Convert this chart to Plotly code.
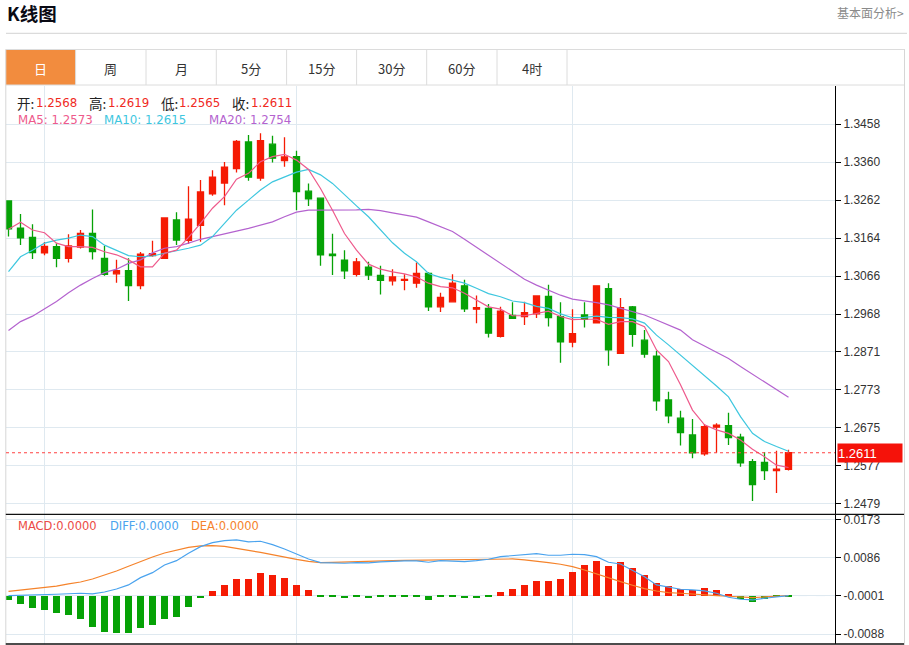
import plotly.graph_objects as go

W, H = 909, 645

# ---------------- data ----------------
opens = [1.3260, 1.3190, 1.3166, 1.3126, 1.3142, 1.3112, 1.3141, 1.3176, 1.3112, 1.3072,
         1.3080, 1.3042, 1.3119, 1.3112, 1.3211, 1.3158, 1.3197, 1.3278, 1.3306, 1.3343,
         1.3412, 1.3319, 1.3406, 1.3364, 1.3374, 1.3285, 1.3267, 1.3123, 1.3107, 1.3071,
         1.3089, 1.3068, 1.3054, 1.3055, 1.3048, 1.3073, 1.2987, 1.3000, 1.3041, 1.2981,
         1.2983, 1.2911, 1.2965, 1.2962, 1.2969, 1.3014, 1.2962, 1.2896, 1.2966, 1.2946,
         1.3034, 1.2867, 1.2987, 1.2901, 1.2860, 1.2747, 1.2700, 1.2657, 1.2608, 1.2677,
         1.2681, 1.2651, 1.2588, 1.2586, 1.2565, 1.2568]
highs = [1.3260, 1.3226, 1.3200, 1.3154, 1.3151, 1.3174, 1.3185, 1.3238, 1.3144, 1.3108,
         1.3112, 1.3128, 1.3157, 1.3216, 1.3231, 1.3298, 1.3314, 1.3339, 1.3360, 1.3417,
         1.3430, 1.3434, 1.3428, 1.3424, 1.3389, 1.3305, 1.3269, 1.3175, 1.3133, 1.3113,
         1.3103, 1.3093, 1.3084, 1.3071, 1.3101, 1.3076, 1.3023, 1.3071, 1.3057, 1.3016,
         1.2994, 1.2987, 1.2999, 1.3000, 1.3017, 1.3044, 1.2999, 1.2981, 1.2999, 1.3041,
         1.3048, 1.3010, 1.2989, 1.2927, 1.2874, 1.2768, 1.2719, 1.2698, 1.2685, 1.2687,
         1.2714, 1.2660, 1.2595, 1.2613, 1.2616, 1.2619]
lows = [1.3168, 1.3146, 1.3110, 1.3120, 1.3089, 1.3101, 1.3137, 1.3109, 1.3067, 1.3049,
        1.3002, 1.3032, 1.3116, 1.3112, 1.3146, 1.3149, 1.3155, 1.3273, 1.3249, 1.3333,
        1.3312, 1.3312, 1.3359, 1.3348, 1.3236, 1.3247, 1.3093, 1.3069, 1.3059, 1.3065,
        1.3056, 1.3019, 1.3042, 1.3030, 1.3036, 1.2976, 1.2974, 1.3000, 1.2974, 1.2945,
        1.2908, 1.2908, 1.2957, 1.2940, 1.2958, 1.2936, 1.2843, 1.2883, 1.2934, 1.2946,
        1.2835, 1.2867, 1.2884, 1.2856, 1.2719, 1.2687, 1.2630, 1.2597, 1.2603, 1.2611,
        1.2631, 1.2575, 1.2487, 1.2541, 1.2507, 1.2565]
closes = [1.3188, 1.3165, 1.3127, 1.3143, 1.3112, 1.3144, 1.3176, 1.3129, 1.3071, 1.3080,
          1.3042, 1.3123, 1.3124, 1.3216, 1.3159, 1.3213, 1.3283, 1.3321, 1.3347, 1.3413,
          1.3321, 1.3415, 1.3370, 1.3373, 1.3284, 1.3265, 1.3121, 1.3119, 1.3080, 1.3103,
          1.3069, 1.3055, 1.3064, 1.3058, 1.3073, 1.2987, 1.3011, 1.3048, 1.2982, 1.2985,
          1.2919, 1.2976, 1.2957, 1.2972, 1.3015, 1.2959, 1.2897, 1.2918, 1.2955, 1.3041,
          1.2876, 1.2985, 1.2916, 1.2865, 1.2745, 1.2706, 1.2663, 1.2611, 1.2678, 1.2682,
          1.2650, 1.2585, 1.2529, 1.2565, 1.2569, 1.2611]

ma5 = [1.3187, 1.3205, 1.3185, 1.3178, 1.3151, 1.3142, 1.3142, 1.3140, 1.3129, 1.3121,
       1.3108, 1.3090, 1.3090, 1.3125, 1.3133, 1.3166, 1.3202, 1.3241, 1.3271, 1.3316,
       1.3331, 1.3361, 1.3374, 1.3380, 1.3365, 1.3341, 1.3292, 1.3236, 1.3176, 1.3133,
       1.3097, 1.3084, 1.3077, 1.3072, 1.3064, 1.3048, 1.3039, 1.3036, 1.3022, 1.3005,
       1.2987, 1.2981, 1.2964, 1.2964, 1.2970, 1.2976, 1.2962, 1.2954, 1.2955, 1.2955,
       1.2942, 1.2949, 1.2949, 1.2936, 1.2876, 1.2846, 1.2786, 1.2721, 1.2683, 1.2670,
       1.2661, 1.2644, 1.2620, 1.2601, 1.2579, 1.2573]
ma10 = [1.3078, 1.3116, 1.3133, 1.3151, 1.3159, 1.3164, 1.3172, 1.3168, 1.3146, 1.3133,
        1.3119, 1.3116, 1.3118, 1.3125, 1.3131, 1.3138, 1.3146, 1.3168, 1.3202, 1.3236,
        1.3262, 1.3288, 1.3309, 1.3322, 1.3334, 1.3341, 1.3327, 1.3305, 1.3275, 1.3247,
        1.3219, 1.3185, 1.3152, 1.3125, 1.3103, 1.3073, 1.3063, 1.3056, 1.3048, 1.3035,
        1.3021, 1.3013, 1.3002, 1.2998, 1.2988, 1.2983, 1.2969, 1.2959, 1.2960, 1.2963,
        1.2960, 1.2959, 1.2956, 1.2945, 1.2914, 1.2889, 1.2863, 1.2837, 1.2811, 1.2783,
        1.2755, 1.2704, 1.2661, 1.2640, 1.2627, 1.2615]
ma20 = [1.2926, 1.2949, 1.2963, 1.2981, 1.3001, 1.3023, 1.3043, 1.3060, 1.3075, 1.3084,
        1.3099, 1.3108, 1.3126, 1.3138, 1.3142, 1.3151, 1.3161, 1.3168, 1.3176, 1.3182,
        1.3189, 1.3198, 1.3206, 1.3219, 1.3231, 1.3236, 1.3236, 1.3236, 1.3236, 1.3237,
        1.3238, 1.3235, 1.3229, 1.3224, 1.3218, 1.3206, 1.3193, 1.3181, 1.3161, 1.3140,
        1.3121, 1.3099, 1.3078, 1.3058, 1.3043, 1.3029, 1.3017, 1.3007, 1.3003, 1.2998,
        1.2992, 1.2983, 1.2974, 1.2966, 1.2953, 1.2940, 1.2927, 1.2902, 1.2886, 1.2871,
        1.2854, 1.2833, 1.2813, 1.2794, 1.2773, 1.2754]

macd_hist = [-0.00101, -0.00199, -0.00291, -0.00330, -0.00405, -0.00444, -0.00529, -0.00712, -0.00827, -0.00849,
             -0.00863, -0.00735, -0.00673, -0.00529, -0.00483, -0.00268, -0.00062, 0.00105, 0.00243, 0.00380,
             0.00380, 0.00517, 0.00465, 0.00410, 0.00250, 0.00135, -0.00032, -0.00032, -0.00055, -0.00025,
             -0.00055, -0.00039, -0.00032, -0.00032, -0.00032, -0.00094, -0.00039, -0.00043, -0.00062, -0.00048,
             -0.00039, 0.00089, 0.00151, 0.00243, 0.00334, 0.00334, 0.00380, 0.00540, 0.00701, 0.00792,
             0.00678, 0.00769, 0.00632, 0.00472, 0.00288, 0.00213, 0.00144, 0.00121, 0.00174, 0.00121,
             0.00014, -0.00085, -0.00147, -0.00085, -0.00039, -0.00021]
diff = [-0.00002, 0.00002, 0.00007, 0.00018, 0.00030, 0.00041, 0.00053, 0.00037, 0.00082, 0.00151,
        0.00243, 0.00410, 0.00524, 0.00701, 0.00799, 0.00968, 0.01120, 0.01211, 0.01257, 0.01273,
        0.01227, 0.01243, 0.01165, 0.01067, 0.00946, 0.00838, 0.00753, 0.00740, 0.00740, 0.00753,
        0.00746, 0.00769, 0.00785, 0.00792, 0.00792, 0.00762, 0.00799, 0.00792, 0.00776, 0.00799,
        0.00831, 0.00891, 0.00914, 0.00946, 0.00959, 0.00923, 0.00923, 0.00946, 0.00936, 0.00891,
        0.00762, 0.00723, 0.00586, 0.00433, 0.00243, 0.00190, 0.00144, 0.00128, 0.00105, 0.00053,
        -0.00039, -0.00085, -0.00101, -0.00062, -0.00032, -0.00002]
dea = [0.00094, 0.00121, 0.00151, 0.00181, 0.00215, 0.00266, 0.00311, 0.00380, 0.00465, 0.00563,
       0.00671, 0.00781, 0.00884, 0.00975, 0.01044, 0.01101, 0.01136, 0.01142, 0.01124, 0.01085,
       0.01033, 0.00987, 0.00930, 0.00872, 0.00827, 0.00781, 0.00753, 0.00758, 0.00769, 0.00776,
       0.00785, 0.00792, 0.00799, 0.00804, 0.00808, 0.00810, 0.00815, 0.00822, 0.00831, 0.00838,
       0.00840, 0.00845, 0.00838, 0.00815, 0.00776, 0.00753, 0.00717, 0.00662, 0.00586, 0.00495,
       0.00396, 0.00318, 0.00236, 0.00158, 0.00105, 0.00066, 0.00053, 0.00030, 0.00014, -0.00002,
       -0.00016, -0.00039, -0.00048, -0.00032, -0.00016, -0.00002]

price_ticks = [1.3458, 1.3360, 1.3262, 1.3164, 1.3066, 1.2968, 1.2871, 1.2773, 1.2675, 1.2577, 1.2479]
price_tick_text = ["1.3458", "1.3360", "1.3262", "1.3164", "1.3066", "1.2968",
                   "1.2871", "1.2773", "1.2675", "1.2577", "1.2479"]
macd_ticks = [0.0173, 0.0086, -0.0001, -0.0088]
macd_tick_text = ["0.0173", "0.0086", "-0.0001", "-0.0088"]
grid_x = [3, 24, 47]   # period boundaries (vertical grid lines)
tabs = ["日", "周", "月", "5分", "15分", "30分", "60分", "4时"]
ohlc_labels = ["开:", "高:", "低:", "收:"]
ohlc_values = ["1.2568", "1.2619", "1.2565", "1.2611"]
ma_labels = ["MA5: 1.2573", "MA10: 1.2615", "MA20: 1.2754"]
macd_labels = ["MACD:0.0000", "DIFF:0.0000", "DEA:0.0000"]
last_price = 1.2611

# ---------------- styles ----------------
RED = "#f51b04"
GREEN = "#06a206"
C_MA5 = "#ee5a8c"
C_MA10 = "#3ec7df"
C_MA20 = "#b463cf"
C_DIFF = "#4aa3ee"
C_DEA = "#f5832b"
GRID = "#dfe9f0"
CJK = "Noto Sans CJK SC"
NUM = "DejaVu Sans"

def px(x):
    return x / W

def py(y):
    return 1 - y / H

x = list(range(len(closes)))
X0, X1 = 6, 835
xr = [-(8.5 - X0) / 12.0, -(8.5 - X0) / 12.0 + (X1 - X0) / 12.0]

fig = go.Figure()

fig.add_trace(go.Candlestick(
    x=x, open=opens, high=highs, low=lows, close=closes,
    increasing=dict(line=dict(color=RED, width=1.3), fillcolor=RED),
    decreasing=dict(line=dict(color=GREEN, width=1.3), fillcolor=GREEN),
    whiskerwidth=0, xaxis="x", yaxis="y", hoverinfo="skip", showlegend=False))

for vals, col in [(ma20, C_MA20), (ma10, C_MA10), (ma5, C_MA5)]:
    fig.add_trace(go.Scatter(x=x, y=vals, mode="lines", line=dict(color=col, width=1.2),
                             xaxis="x", yaxis="y", hoverinfo="skip", showlegend=False))

bar_colors = [RED if v >= 0 else GREEN for v in macd_hist]
fig.add_trace(go.Bar(x=x, y=macd_hist, marker=dict(color=bar_colors, line=dict(width=0)),
                     width=0.66, xaxis="x2", yaxis="y2", hoverinfo="skip", showlegend=False))
fig.add_trace(go.Scatter(x=x, y=dea, mode="lines", line=dict(color=C_DEA, width=1.2),
                         xaxis="x2", yaxis="y2", hoverinfo="skip", showlegend=False))
fig.add_trace(go.Scatter(x=x, y=diff, mode="lines", line=dict(color=C_DIFF, width=1.2),
                         xaxis="x2", yaxis="y2", hoverinfo="skip", showlegend=False))

dom_main = [py(514), py(86)]
dom_macd = [py(644), py(514)]

axis_common_x = dict(domain=[px(X0), px(X1)], range=xr, tickvals=grid_x, showticklabels=False,
                     ticks="", showgrid=True, gridcolor=GRID, gridwidth=1, zeroline=False,
                     showline=False, fixedrange=True)

shapes = []
annotations = []

# top title line
shapes.append(dict(type="line", xref="paper", yref="paper", x0=px(6), x1=px(907), y0=py(33.3), y1=py(33.3),
                   line=dict(color="#d2d2d2", width=1)))
# tab bar
tab_edges = [5.8, 75.6, 146, 216.3, 286.6, 356.6, 426.7, 497, 567]
shapes.append(dict(type="rect", xref="paper", yref="paper", x0=px(tab_edges[0]), x1=px(tab_edges[1]),
                   y0=py(85), y1=py(49.5), fillcolor="#f28c3e", line=dict(width=0), layer="below"))
shapes.append(dict(type="line", xref="paper", yref="paper", x0=px(5.8), x1=px(905), y0=py(49.5), y1=py(49.5),
                   line=dict(color="#dcdcdc", width=1)))
shapes.append(dict(type="line", xref="paper", yref="paper", x0=px(5.8), x1=px(905), y0=py(85), y1=py(85),
                   line=dict(color="#dcdcdc", width=1)))
for e in tab_edges[1:]:
    shapes.append(dict(type="line", xref="paper", yref="paper", x0=px(e), x1=px(e), y0=py(85), y1=py(49.5),
                       line=dict(color="#dcdcdc", width=1)))
# outer chart borders
shapes.append(dict(type="line", xref="paper", yref="paper", x0=px(5.8), x1=px(5.8), y0=py(645), y1=py(49.5),
                   line=dict(color="#d6d6d6", width=1)))
shapes.append(dict(type="line", xref="paper", yref="paper", x0=px(904.5), x1=px(904.5), y0=py(645), y1=py(49.5),
                   line=dict(color="#d6d6d6", width=1)))
# black separators
for yy in (514.3, 644):
    shapes.append(dict(type="line", xref="paper", yref="paper", x0=px(5.8), x1=px(904), y0=py(yy), y1=py(yy),
                       line=dict(color="#111111", width=1.3)))
# current price dotted line
shapes.append(dict(type="line", xref="paper", yref="y", x0=px(X0), x1=px(X1), y0=last_price, y1=last_price,
                   line=dict(color="#ff4040", width=1, dash="dot")))
# macd zero dashed line
shapes.append(dict(type="line", xref="paper", yref="y2", x0=px(X0), x1=px(X1), y0=0, y1=0,
                   line=dict(color="#a9d6ef", width=1, dash="dash"), layer="below"))

# title texts
annotations.append(dict(text="<b>K线图</b>", x=px(4.5), y=py(13), xref="paper", yref="paper",
                        xanchor="left", yanchor="middle", showarrow=False,
                        font=dict(family=CJK, size=18.5, color="#0a0a14")))
annotations.append(dict(text="基本面分析&gt;", x=px(906), y=py(12.5), xref="paper", yref="paper",
                        xanchor="right", yanchor="middle", showarrow=False,
                        font=dict(family=CJK, size=12, color="#8a8a8a")))
for i, t in enumerate(tabs):
    cx = (tab_edges[i] + tab_edges[i + 1]) / 2
    annotations.append(dict(text=t, x=px(cx), y=py(68), xref="paper", yref="paper",
                            xanchor="center", yanchor="middle", showarrow=False,
                            font=dict(family=CJK, size=13, color="#ffffff" if i == 0 else "#333333")))

# OHLC header
lab_x = [14.5, 86.8, 158.8, 229.8]
val_x = [34.3, 106, 177.3, 249.3]
for lx, vx, lt, vt in zip(lab_x, val_x, ohlc_labels, ohlc_values):
    annotations.append(dict(text=lt, x=px(lx), y=py(102.5), xref="paper", yref="paper", xanchor="left",
                            yanchor="middle", showarrow=False, font=dict(family=CJK, size=13.5, color="#222222")))
    annotations.append(dict(text=vt, x=px(vx), y=py(102.5), xref="paper", yref="paper", xanchor="left",
                            yanchor="middle", showarrow=False, font=dict(family=NUM, size=11.8, color="#f02a1e")))
for lx, t, col in zip([15.5, 101.7, 207.3], ma_labels, [C_MA5, C_MA10, C_MA20]):
    annotations.append(dict(text=t, x=px(lx), y=py(119.5), xref="paper", yref="paper", xanchor="left",
                            yanchor="middle", showarrow=False, font=dict(family=NUM, size=11.8, color=col)))
for lx, t, col in zip([16, 108, 189], macd_labels, ["#ec4b45", C_DIFF, C_DEA]):
    annotations.append(dict(text=t, x=px(lx), y=py(525.5), xref="paper", yref="paper", xanchor="left",
                            yanchor="middle", showarrow=False, font=dict(family=NUM, size=11.5, color=col)))
# last price label
annotations.append(dict(text="1.2611", x=px(836.5), y=last_price, xref="paper", yref="y", xanchor="left",
                        yanchor="middle", showarrow=False, bgcolor="#f5120a", width=64, height=18,
                        align="left", borderpad=0,
                        font=dict(family="Liberation Sans", size=13, color="#ffffff")))

fig.update_layout(
    width=W, height=H, autosize=False,
    margin=dict(l=0, r=0, t=0, b=0),
    paper_bgcolor="white", plot_bgcolor="white",
    showlegend=False, boxgap=0.28, bargap=0,
    xaxis=dict(anchor="y", rangeslider=dict(visible=False), **axis_common_x),
    xaxis2=dict(anchor="y2", **axis_common_x),
    yaxis=dict(domain=dom_main, range=[1.24532, 1.3556], side="right", anchor="x",
               tickvals=price_ticks, ticktext=price_tick_text, ticks="outside", ticklen=5,
               tickcolor="#000000", showline=True, linecolor="#000000", linewidth=1,
               showgrid=True, gridcolor=GRID, zeroline=False, fixedrange=True,
               tickfont=dict(family="Liberation Sans", size=12, color="#333333")),
    yaxis2=dict(domain=dom_macd, range=[-0.01109, 0.01867], side="right", anchor="x2",
                tickvals=macd_ticks, ticktext=macd_tick_text, ticks="outside", ticklen=5,
                tickcolor="#000000", showline=True, linecolor="#000000", linewidth=1,
                showgrid=True, gridcolor=GRID, zeroline=False, fixedrange=True,
                tickfont=dict(family="Liberation Sans", size=12, color="#333333")),
    shapes=shapes, annotations=annotations,
)

fig.write_html("out.html", config={"displayModeBar": False},
               post_script="document.body.style.margin='0';document.body.style.overflow='hidden';")
